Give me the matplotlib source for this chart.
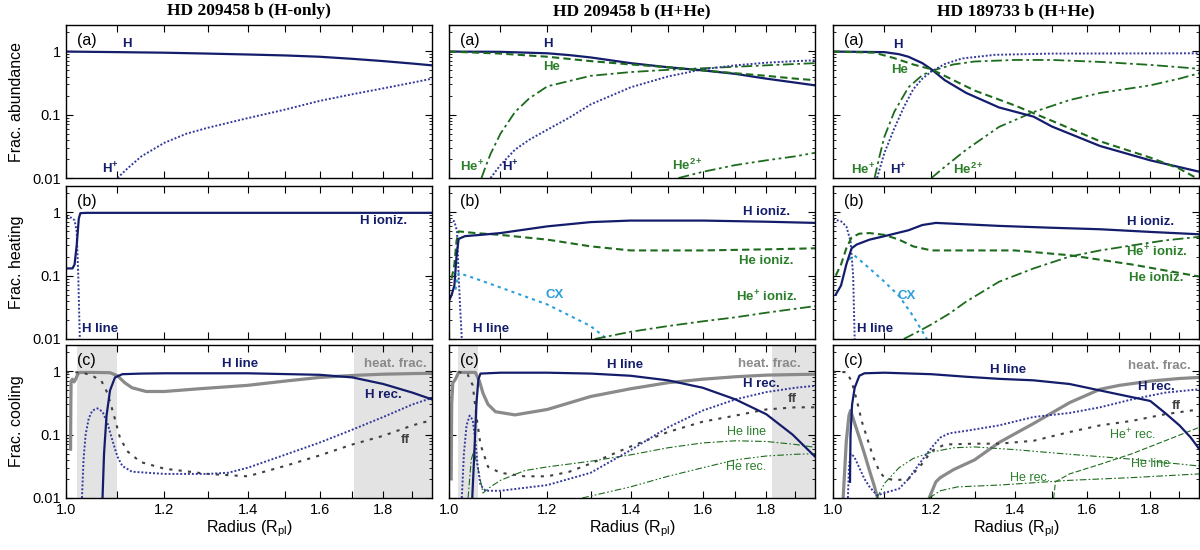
import numpy as np
import matplotlib
matplotlib.use('Agg')
import matplotlib.pyplot as plt
from matplotlib.ticker import FixedLocator, FixedFormatter, NullFormatter, NullLocator

plt.rcParams['font.family'] = ['Liberation Sans', 'DejaVu Sans']
plt.rcParams['mathtext.fontset'] = 'custom'
plt.rcParams['mathtext.rm'] = 'Liberation Sans'
plt.rcParams['mathtext.bf'] = 'Liberation Sans:bold'
plt.rcParams['mathtext.it'] = 'Liberation Sans:italic'

NAVY = '#141d6b'
NAVY_DOT = '#343a9c'
GREEN = '#1d6b1d'
GREEN_TXT = '#2b7f2b'
CX_BLUE = '#2a9fd8'
GREY = '#8a8a8a'
FF_GREY = '#404040'
SHADE = '#e3e3e3'

XMIN, XMAX = 1.0, 1.97
YMIN, YMAX = 0.01, 2.6

col_titles = ['HD 209458 b (H-only)', 'HD 209458 b (H+He)', 'HD 189733 b (H+He)']
row_ylabels = ['Frac. abundance', 'Frac. heating', 'Frac. cooling']
panel_tags = ['(a)', '(b)', '(c)']
x_ticks = [1.0, 1.1, 1.2, 1.3, 1.4, 1.5, 1.6, 1.7, 1.8, 1.9]
x_ticklabels = ['1.0', '', '1.2', '', '1.4', '', '1.6', '', '1.8', '']
y_ticks = [0.01, 0.1, 1]
y_ticklabels = ['0.01', '0.1', '1']

# ---------------- column 1 : HD 209458 b (H-only) ----------------
c1_ab_H_x = [1.0, 1.1, 1.2, 1.3, 1.4, 1.5, 1.6, 1.7, 1.8, 1.9, 1.97]
c1_ab_H_y = [0.99, 0.97, 0.95, 0.92, 0.89, 0.86, 0.82, 0.76, 0.70, 0.64, 0.60]
c1_ab_Hp_x = [1.10, 1.12, 1.15, 1.2, 1.25, 1.3, 1.4, 1.5, 1.6, 1.7, 1.8, 1.9, 1.97]
c1_ab_Hp_y = [0.01, 0.014, 0.022, 0.036, 0.05, 0.062, 0.088, 0.12, 0.165, 0.21, 0.26, 0.32, 0.37]

c1_ht_Hion_x = [1.0, 1.012, 1.016, 1.02, 1.024, 1.027, 1.04, 1.97]
c1_ht_Hion_y = [0.13, 0.13, 0.15, 0.3, 0.8, 0.97, 0.98, 0.98]
c1_ht_Hline_x = [1.0, 1.01, 1.016, 1.02, 1.023, 1.025, 1.026]
c1_ht_Hline_y = [0.85, 0.82, 0.75, 0.5, 0.1, 0.02, 0.01]

c1_cl_heat_x = [1.0085, 1.009, 1.0095, 1.012, 1.015, 1.018, 1.022, 1.026, 1.05, 1.085, 1.1,
                1.115, 1.13, 1.16, 1.2, 1.28, 1.4, 1.5, 1.6, 1.7, 1.8, 1.9, 1.97]
c1_cl_heat_y = [0.059, 0.3, 0.7, 0.75, 0.68, 0.75, 0.9, 0.96, 0.96, 0.95, 0.85,
                0.66, 0.55, 0.48, 0.48, 0.53, 0.6, 0.7, 0.8, 0.86, 0.9, 0.92, 0.93]
c1_cl_Hline_x = [1.07, 1.073, 1.078, 1.085, 1.095, 1.11, 1.15, 1.2, 1.4, 1.6, 1.7, 1.8, 1.9, 1.97]
c1_cl_Hline_y = [0.01, 0.05, 0.2, 0.5, 0.8, 0.9, 0.92, 0.93, 0.93, 0.88, 0.8, 0.63, 0.46, 0.36]
c1_cl_Hrec_x = [1.03, 1.033, 1.037, 1.043, 1.05, 1.06, 1.07, 1.08, 1.09, 1.1, 1.11, 1.13, 1.2,
                1.3, 1.35, 1.4, 1.5, 1.6, 1.7, 1.8, 1.9, 1.97]
c1_cl_Hrec_y = [0.01, 0.04, 0.1, 0.18, 0.24, 0.26, 0.23, 0.15, 0.08, 0.045, 0.032, 0.026, 0.024,
                0.024, 0.025, 0.03, 0.048, 0.075, 0.12, 0.19, 0.3, 0.38]
c1_cl_ff_x = [1.0, 1.03, 1.05, 1.068, 1.08, 1.093, 1.105, 1.12, 1.148, 1.2, 1.3, 1.4, 1.5,
              1.6, 1.7, 1.8, 1.9, 1.97]
c1_cl_ff_y = [0.97, 0.96, 0.85, 0.7, 0.45, 0.2, 0.09, 0.055, 0.037, 0.029, 0.024, 0.022, 0.032,
              0.047, 0.07, 0.096, 0.14, 0.17]
c1_shades = [(1.021, 1.10), (1.705, 1.97)]

# ---------------- column 2 : HD 209458 b (H+He) ----------------
c2_ab_H_x = [1.0, 1.1, 1.2, 1.25, 1.3, 1.4, 1.5, 1.6, 1.7, 1.8, 1.9, 1.97]
c2_ab_H_y = [0.99, 0.98, 0.93, 0.87, 0.8, 0.65, 0.56, 0.5, 0.44, 0.37, 0.32, 0.29]
c2_ab_He_x = [1.0, 1.1, 1.2, 1.3, 1.4, 1.5, 1.6, 1.7, 1.8, 1.9, 1.97]
c2_ab_He_y = [0.99, 0.92, 0.82, 0.7, 0.62, 0.56, 0.5, 0.45, 0.41, 0.37, 0.35]
c2_ab_Hp_x = [1.08, 1.1, 1.13, 1.16, 1.2, 1.25, 1.3, 1.4, 1.5, 1.6, 1.7, 1.8, 1.9, 1.97]
c2_ab_Hp_y = [0.01, 0.016, 0.028, 0.04, 0.058, 0.09, 0.145, 0.27, 0.4, 0.52, 0.6, 0.66, 0.7, 0.72]
c2_ab_Hep_x = [1.062, 1.07, 1.08, 1.1, 1.13, 1.16, 1.2, 1.3, 1.4, 1.5, 1.6, 1.7, 1.8, 1.9, 1.97]
c2_ab_Hep_y = [0.01, 0.015, 0.024, 0.05, 0.11, 0.18, 0.28, 0.41, 0.47, 0.51, 0.54, 0.57, 0.6, 0.63, 0.65]
c2_ab_He2p_x = [1.53, 1.6, 1.7, 1.8, 1.9, 1.97]
c2_ab_He2p_y = [0.01, 0.0125, 0.016, 0.019, 0.022, 0.025]

c2_ht_Hion_x = [1.0, 1.005, 1.01, 1.014, 1.018, 1.03, 1.06, 1.1, 1.2, 1.3, 1.4, 1.6, 1.8, 1.97]
c2_ht_Hion_y = [0.04, 0.05, 0.07, 0.2, 0.38, 0.42, 0.44, 0.47, 0.6, 0.7, 0.74, 0.74, 0.71, 0.68]
c2_ht_Heion_x = [1.005, 1.01, 1.014, 1.018, 1.05, 1.1, 1.2, 1.3, 1.4, 1.6, 1.8, 1.97]
c2_ht_Heion_y = [0.09, 0.15, 0.35, 0.5, 0.47, 0.44, 0.37, 0.29, 0.25, 0.25, 0.26, 0.27]
c2_ht_Hepion_x = [1.31, 1.4, 1.5, 1.6, 1.7, 1.8, 1.9, 1.97]
c2_ht_Hepion_y = [0.01, 0.013, 0.016, 0.019, 0.022, 0.026, 0.03, 0.033]
c2_ht_CX_x = [1.012, 1.018, 1.05, 1.1, 1.2, 1.3, 1.34]
c2_ht_CX_y = [0.06, 0.11, 0.09, 0.065, 0.035, 0.016, 0.01]
c2_ht_Hline_x = [1.0, 1.01, 1.015, 1.018, 1.021, 1.024]
c2_ht_Hline_y = [0.75, 0.72, 0.5, 0.1, 0.03, 0.01]

c2_cl_heat_x = [1.004, 1.005, 1.007, 1.012, 1.018, 1.05, 1.058, 1.065, 1.075, 1.09, 1.13, 1.2,
                1.3, 1.4, 1.5, 1.6, 1.7, 1.8, 1.97]
c2_cl_heat_y = [0.02, 0.3, 0.65, 0.75, 0.96, 0.96, 0.7, 0.45, 0.3, 0.23, 0.205, 0.25,
                0.4, 0.53, 0.66, 0.75, 0.82, 0.87, 0.9]
c2_cl_Hline_x = [1.044, 1.048, 1.052, 1.056, 1.06, 1.1, 1.2, 1.3, 1.4, 1.5, 1.6, 1.7, 1.8, 1.89, 1.97]
c2_cl_Hline_y = [0.01, 0.05, 0.3, 0.75, 0.92, 0.95, 0.95, 0.92, 0.85, 0.72, 0.55, 0.36, 0.21, 0.1, 0.045]
c2_cl_Hrec_x = [1.024, 1.028, 1.033, 1.039, 1.045, 1.05, 1.055, 1.06, 1.07, 1.1, 1.2, 1.3, 1.4,
                1.5, 1.6, 1.7, 1.8, 1.9, 1.97]
c2_cl_Hrec_y = [0.01, 0.05, 0.14, 0.2, 0.17, 0.08, 0.03, 0.016, 0.013, 0.013, 0.016, 0.025, 0.057,
                0.13, 0.24, 0.36, 0.47, 0.55, 0.59]
c2_cl_ff_x = [1.0, 1.02, 1.035, 1.045, 1.052, 1.06, 1.075, 1.1, 1.15, 1.2, 1.25, 1.3, 1.4, 1.5,
              1.6, 1.7, 1.8, 1.9, 1.97]
c2_cl_ff_y = [0.97, 0.97, 0.9, 0.6, 0.2, 0.07, 0.031, 0.025, 0.022, 0.022, 0.026, 0.035, 0.065, 0.11,
              0.16, 0.2, 0.25, 0.27, 0.27]
c2_cl_Heline_x = [1.036, 1.042, 1.047, 1.055, 1.065, 1.08, 1.1, 1.15, 1.2, 1.3, 1.4, 1.5, 1.6,
                  1.7, 1.8, 1.9, 1.97]
c2_cl_Heline_y = [0.01, 0.04, 0.055, 0.03, 0.012, 0.015, 0.019, 0.027, 0.031, 0.038, 0.048, 0.062,
                  0.074, 0.08, 0.078, 0.07, 0.063]
c2_cl_Herec_x = [1.28, 1.4, 1.5, 1.6, 1.7, 1.8, 1.9, 1.97]
c2_cl_Herec_y = [0.01, 0.015, 0.022, 0.03, 0.04, 0.046, 0.049, 0.05]
c2_shades = [(1.017, 1.056), (1.818, 1.97)]

# ---------------- column 3 : HD 189733 b (H+He) ----------------
c3_ab_H_x = [1.0, 1.1, 1.13, 1.15, 1.18, 1.2, 1.23, 1.28, 1.36, 1.45, 1.5, 1.64, 1.8, 1.97]
c3_ab_H_y = [0.99, 0.97, 0.9, 0.82, 0.65, 0.52, 0.35, 0.22, 0.13, 0.093, 0.065, 0.032, 0.019, 0.0126]
c3_ab_He_x = [1.0, 1.08, 1.12, 1.16, 1.2, 1.25, 1.3, 1.4, 1.5, 1.64, 1.8, 1.9, 1.97]
c3_ab_He_y = [0.99, 0.95, 0.78, 0.62, 0.52, 0.35, 0.24, 0.14, 0.08, 0.038, 0.021, 0.014, 0.0095]
c3_ab_Hp_x = [1.085, 1.1, 1.12, 1.14, 1.16, 1.18, 1.2, 1.23, 1.27, 1.35, 1.5, 1.97]
c3_ab_Hp_y = [0.01, 0.025, 0.06, 0.13, 0.25, 0.37, 0.48, 0.63, 0.77, 0.88, 0.92, 0.93]
c3_ab_Hep_x = [1.08, 1.09, 1.1, 1.12, 1.15, 1.18, 1.2, 1.25, 1.3, 1.4, 1.5, 1.64, 1.8, 1.97]
c3_ab_Hep_y = [0.01, 0.022, 0.045, 0.11, 0.27, 0.42, 0.49, 0.62, 0.69, 0.73, 0.73, 0.68, 0.61, 0.53]
c3_ab_He2p_x = [1.2, 1.23, 1.28, 1.36, 1.45, 1.55, 1.64, 1.8, 1.9, 1.97]
c3_ab_He2p_y = [0.01, 0.015, 0.028, 0.064, 0.11, 0.17, 0.22, 0.29, 0.37, 0.45]

c3_ht_Hion_x = [1.005, 1.015, 1.025, 1.035, 1.045, 1.07, 1.1, 1.15, 1.18, 1.21, 1.25, 1.36, 1.5,
                1.64, 1.8, 1.97]
c3_ht_Hion_y = [0.05, 0.07, 0.15, 0.27, 0.31, 0.37, 0.42, 0.52, 0.63, 0.68, 0.66, 0.61, 0.57,
                0.54, 0.49, 0.45]
c3_ht_Heion_x = [1.005, 1.015, 1.025, 1.035, 1.05, 1.07, 1.1, 1.13, 1.16, 1.2, 1.3, 1.4, 1.55, 1.74, 1.97]
c3_ht_Heion_y = [0.1, 0.15, 0.27, 0.4, 0.46, 0.47, 0.44, 0.37, 0.29, 0.25, 0.25, 0.25, 0.21, 0.15, 0.097]
c3_ht_Hepion_x = [1.14, 1.17, 1.2, 1.24, 1.28, 1.36, 1.45, 1.55, 1.64, 1.74, 1.85, 1.97]
c3_ht_Hepion_y = [0.01, 0.013, 0.017, 0.025, 0.039, 0.08, 0.13, 0.2, 0.25, 0.3, 0.36, 0.41]
c3_ht_CX_x = [1.03, 1.04, 1.07, 1.1, 1.13, 1.16, 1.19]
c3_ht_CX_y = [0.18, 0.21, 0.13, 0.08, 0.048, 0.023, 0.01]
c3_ht_Hline_x = [1.0, 1.015, 1.025, 1.033, 1.038, 1.041]
c3_ht_Hline_y = [0.78, 0.72, 0.6, 0.35, 0.1, 0.01]

c3_cl_heat1_x = [1.019, 1.025, 1.03, 1.033, 1.04, 1.05, 1.06, 1.07, 1.08, 1.086]
c3_cl_heat1_y = [0.01, 0.08, 0.2, 0.24, 0.16, 0.09, 0.05, 0.027, 0.015, 0.01]
c3_cl_heat2_x = [1.195, 1.21, 1.22, 1.25, 1.3, 1.36, 1.45, 1.55, 1.64, 1.7, 1.8, 1.9, 1.97]
c3_cl_heat2_y = [0.01, 0.018, 0.021, 0.028, 0.04, 0.075, 0.15, 0.32, 0.52, 0.6, 0.7, 0.77, 0.8]
c3_cl_Hline_x = [1.032, 1.033, 1.036, 1.041, 1.05, 1.06, 1.1, 1.2, 1.28, 1.36, 1.45, 1.55, 1.69,
                 1.8, 1.85, 1.9, 1.94, 1.97]
c3_cl_Hline_y = [0.018, 0.1, 0.3, 0.55, 0.85, 0.93, 0.95, 0.9, 0.82, 0.76, 0.72, 0.63, 0.44,
                 0.34, 0.22, 0.14, 0.09, 0.06]
c3_cl_Hrec_x = [1.028, 1.03, 1.033, 1.04, 1.05, 1.06, 1.07, 1.085, 1.1, 1.13, 1.15, 1.17, 1.2,
                1.22, 1.24, 1.28, 1.36, 1.45, 1.55, 1.64, 1.74, 1.85, 1.97]
c3_cl_Hrec_y = [0.01, 0.03, 0.05, 0.045, 0.03, 0.02, 0.015, 0.011, 0.012, 0.014, 0.02, 0.032, 0.062,
                0.09, 0.105, 0.115, 0.14, 0.19, 0.22, 0.27, 0.36, 0.46, 0.52]
c3_cl_ff_x = [1.0, 1.025, 1.035, 1.045, 1.055, 1.065, 1.077, 1.09, 1.1, 1.12, 1.15, 1.18, 1.2,
              1.23, 1.3, 1.36, 1.45, 1.55, 1.64, 1.74, 1.85, 1.97]
c3_cl_ff_y = [0.98, 0.97, 0.7, 0.35, 0.16, 0.09, 0.045, 0.026, 0.021, 0.019, 0.02, 0.035, 0.055,
              0.07, 0.072, 0.072, 0.08, 0.11, 0.14, 0.165, 0.21, 0.25]
c3_cl_Heline_x = [1.085, 1.1, 1.13, 1.16, 1.2, 1.25, 1.3, 1.4, 1.55, 1.74, 1.97]
c3_cl_Heline_y = [0.01, 0.017, 0.03, 0.042, 0.053, 0.062, 0.064, 0.058, 0.049, 0.041, 0.032]
c3_cl_Hereca_x = [1.195, 1.22, 1.26, 1.36, 1.55, 1.74, 1.97]
c3_cl_Hereca_y = [0.01, 0.013, 0.015, 0.016, 0.019, 0.021, 0.024]
c3_cl_Heprec_x = [1.505, 1.51, 1.55, 1.64, 1.74, 1.85, 1.97]
c3_cl_Heprec_y = [0.01, 0.018, 0.024, 0.034, 0.05, 0.08, 0.13]

# line styles
DOT = (0, (1, 1))
DASH = (0, (3.5, 2))
DASHDOT = (0, (6, 2, 1.5, 2))
DASHDOTDOT = (0, (6, 2, 1.5, 2, 1.5, 2))
FFDOT = (0, (1.5, 3))
CXDOT = (0, (1.5, 2))


def style_axes(ax, row, col):
    ax.set_xscale('log')
    ax.set_yscale('log')
    ax.set_xlim(XMIN, XMAX)
    ax.set_ylim(YMIN, YMAX)
    ax.xaxis.set_major_locator(FixedLocator(x_ticks))
    ax.xaxis.set_minor_locator(NullLocator())
    ax.xaxis.set_minor_formatter(NullFormatter())
    if row == 2:
        ax.xaxis.set_major_formatter(FixedFormatter(x_ticklabels))
        ax.set_xlabel(r'Radius (R$_{\mathrm{pl}}$)', fontsize=11.5, labelpad=1)
    else:
        ax.xaxis.set_major_formatter(NullFormatter())
    ax.yaxis.set_major_locator(FixedLocator(y_ticks))
    if col == 0:
        ax.yaxis.set_major_formatter(FixedFormatter(y_ticklabels))
        ax.set_ylabel(row_ylabels[row], fontsize=11.5, labelpad=6)
    else:
        ax.yaxis.set_major_formatter(NullFormatter())
    ax.yaxis.set_minor_formatter(NullFormatter())
    ax.tick_params(which='both', direction='in', top=True, right=True, labelsize=10.5)
    ax.tick_params(which='major', length=5, width=0.8)
    ax.tick_params(which='minor', length=2.5, width=0.6)
    for s in ax.spines.values():
        s.set_linewidth(1.0)
    ax.text(0.03, 0.95, panel_tags[row], transform=ax.transAxes, fontsize=11.5,
            ha='left', va='top')


def lab(ax, x, y, s, color, bold=True, size=9.5, ha='center'):
    ax.text(x, y, s, color=color, fontsize=size, ha=ha, va='center',
            fontweight='bold' if bold else 'normal')


fig = plt.figure(figsize=(12, 5.5), dpi=100)
col_left = [66, 449, 833]
row_top = [25, 186, 345]
PW, PH = 366, 153
axes = [[None] * 3 for _ in range(3)]
for r in range(3):
    for c in range(3):
        axes[r][c] = fig.add_axes([col_left[c] / 1200, 1 - (row_top[r] + PH) / 550,
                                   PW / 1200, PH / 550])

for c in range(3):
    fig.text((col_left[c] + PW / 2) / 1200, 1 - 11 / 550, col_titles[c],
             family=['Liberation Serif', 'DejaVu Serif'], fontweight='bold',
             fontsize=12.5, ha='center', va='center')

# ---- column 1
ax = axes[0][0]
ax.plot(c1_ab_H_x, c1_ab_H_y, color=NAVY, lw=1.6)
ax.plot(c1_ab_Hp_x, c1_ab_Hp_y, color=NAVY_DOT, lw=1.4, ls=DOT)
lab(ax, 1.12, 1.3, 'H', NAVY)
lab(ax, 1.085, 0.014, r'H$^{\mathbf{+}}$', NAVY)

ax = axes[1][0]
ax.plot(c1_ht_Hline_x, c1_ht_Hline_y, color=NAVY_DOT, lw=1.4, ls=DOT)
ax.plot(c1_ht_Hion_x, c1_ht_Hion_y, color=NAVY, lw=1.6)
lab(ax, 1.80, 0.72, 'H ioniz.', NAVY)
lab(ax, 1.03, 0.0145, 'H line', NAVY, ha='left')

ax = axes[2][0]
for a, b in c1_shades:
    ax.axvspan(a, b, color=SHADE, lw=0, zorder=0)
ax.plot(c1_cl_heat_x, c1_cl_heat_y, color=GREY, lw=2.3)
ax.plot(c1_cl_ff_x, c1_cl_ff_y, color=FF_GREY, lw=1.5, ls=FFDOT)
ax.plot(c1_cl_Hrec_x, c1_cl_Hrec_y, color=NAVY_DOT, lw=1.4, ls=DOT)
ax.plot(c1_cl_Hline_x, c1_cl_Hline_y, color=NAVY, lw=1.6)
lab(ax, 1.38, 1.3, 'H line', NAVY)
lab(ax, 1.84, 1.3, 'heat. frac.', GREY)
lab(ax, 1.80, 0.42, 'H rec.', NAVY)
lab(ax, 1.875, 0.082, 'ff', FF_GREY)

# ---- column 2
ax = axes[0][1]
ax.plot(c2_ab_He2p_x, c2_ab_He2p_y, color=GREEN, lw=1.3, ls=DASHDOTDOT)
ax.plot(c2_ab_Hep_x, c2_ab_Hep_y, color=GREEN, lw=1.3, ls=DASHDOT)
ax.plot(c2_ab_Hp_x, c2_ab_Hp_y, color=NAVY_DOT, lw=1.4, ls=DOT)
ax.plot(c2_ab_H_x, c2_ab_H_y, color=NAVY, lw=1.6)
ax.plot(c2_ab_He_x, c2_ab_He_y, color=GREEN, lw=1.5, ls=DASH)
lab(ax, 1.2, 1.3, 'H', NAVY)
lab(ax, 1.21, 0.56, 'He', GREEN_TXT)
lab(ax, 1.043, 0.015, r'He$^{\mathbf{+}}$', GREEN_TXT)
lab(ax, 1.12, 0.015, r'H$^{\mathbf{+}}$', NAVY)
lab(ax, 1.555, 0.016, r'He$^{\mathbf{2+}}$', GREEN_TXT)

ax = axes[1][1]
ax.plot(c2_ht_Hline_x, c2_ht_Hline_y, color=NAVY_DOT, lw=1.4, ls=DOT)
ax.plot(c2_ht_CX_x, c2_ht_CX_y, color=CX_BLUE, lw=1.5, ls=CXDOT)
ax.plot(c2_ht_Hepion_x, c2_ht_Hepion_y, color=GREEN, lw=1.3, ls=DASHDOT)
ax.plot(c2_ht_Heion_x, c2_ht_Heion_y, color=GREEN, lw=1.5, ls=DASH)
ax.plot(c2_ht_Hion_x, c2_ht_Hion_y, color=NAVY, lw=1.6)
lab(ax, 1.80, 1.0, 'H ioniz.', NAVY)
lab(ax, 1.80, 0.17, 'He ioniz.', GREEN_TXT)
lab(ax, 1.80, 0.046, r'He$^{\mathbf{+}}$ ioniz.', GREEN_TXT)
lab(ax, 1.217, 0.05, 'CX', CX_BLUE)
lab(ax, 1.045, 0.0145, 'H line', NAVY, ha='left')

ax = axes[2][1]
for a, b in c2_shades:
    ax.axvspan(a, b, color=SHADE, lw=0, zorder=0)
ax.plot(c2_cl_heat_x, c2_cl_heat_y, color=GREY, lw=2.3)
ax.plot(c2_cl_Herec_x, c2_cl_Herec_y, color=GREEN, lw=0.8, ls=DASHDOTDOT)
ax.plot(c2_cl_Heline_x, c2_cl_Heline_y, color=GREEN, lw=0.8, ls=DASHDOT)
ax.plot(c2_cl_ff_x, c2_cl_ff_y, color=FF_GREY, lw=1.5, ls=FFDOT)
ax.plot(c2_cl_Hrec_x, c2_cl_Hrec_y, color=NAVY_DOT, lw=1.4, ls=DOT)
ax.plot(c2_cl_Hline_x, c2_cl_Hline_y, color=NAVY, lw=1.6)
lab(ax, 1.386, 1.25, 'H line', NAVY)
lab(ax, 1.81, 1.3, 'heat. frac.', GREY)
lab(ax, 1.785, 0.62, 'H rec.', NAVY)
lab(ax, 1.89, 0.36, 'ff', FF_GREY)
lab(ax, 1.735, 0.11, 'He line', GREEN_TXT, bold=False, size=9)
lab(ax, 1.735, 0.031, 'He rec.', GREEN_TXT, bold=False, size=9)

# ---- column 3
ax = axes[0][2]
ax.plot(c3_ab_He2p_x, c3_ab_He2p_y, color=GREEN, lw=1.3, ls=DASHDOTDOT)
ax.plot(c3_ab_Hep_x, c3_ab_Hep_y, color=GREEN, lw=1.3, ls=DASHDOT)
ax.plot(c3_ab_Hp_x, c3_ab_Hp_y, color=NAVY_DOT, lw=1.4, ls=DOT)
ax.plot(c3_ab_H_x, c3_ab_H_y, color=NAVY, lw=1.6)
ax.plot(c3_ab_He_x, c3_ab_He_y, color=GREEN, lw=1.5, ls=DASH)
lab(ax, 1.128, 1.25, 'H', NAVY)
lab(ax, 1.132, 0.5, 'He', GREEN_TXT)
lab(ax, 1.057, 0.0135, r'He$^{\mathbf{+}}$', GREEN_TXT)
lab(ax, 1.128, 0.0135, r'H$^{\mathbf{+}}$', NAVY)
lab(ax, 1.285, 0.0135, r'He$^{\mathbf{2+}}$', GREEN_TXT)

ax = axes[1][2]
ax.plot(c3_ht_Hline_x, c3_ht_Hline_y, color=NAVY_DOT, lw=1.4, ls=DOT)
ax.plot(c3_ht_CX_x, c3_ht_CX_y, color=CX_BLUE, lw=1.5, ls=CXDOT)
ax.plot(c3_ht_Hepion_x, c3_ht_Hepion_y, color=GREEN, lw=1.3, ls=DASHDOT)
ax.plot(c3_ht_Heion_x, c3_ht_Heion_y, color=GREEN, lw=1.5, ls=DASH)
ax.plot(c3_ht_Hion_x, c3_ht_Hion_y, color=NAVY, lw=1.6)
lab(ax, 1.80, 0.70, 'H ioniz.', NAVY)
lab(ax, 1.82, 0.24, r'He$^{\mathbf{+}}$ ioniz.', GREEN_TXT)
lab(ax, 1.82, 0.093, 'He ioniz.', GREEN_TXT)
lab(ax, 1.146, 0.047, 'CX', CX_BLUE)
lab(ax, 1.045, 0.0145, 'H line', NAVY, ha='left')

ax = axes[2][2]
ax.plot(c3_cl_heat1_x, c3_cl_heat1_y, color=GREY, lw=2.3)
ax.plot(c3_cl_heat2_x, c3_cl_heat2_y, color=GREY, lw=2.3)
ax.plot(c3_cl_Hereca_x, c3_cl_Hereca_y, color=GREEN, lw=0.8, ls=DASHDOT)
ax.plot(c3_cl_Heprec_x, c3_cl_Heprec_y, color=GREEN, lw=0.8, ls=(0, (5, 2)))
ax.plot(c3_cl_Heline_x, c3_cl_Heline_y, color=GREEN, lw=0.8, ls=DASHDOTDOT)
ax.plot(c3_cl_ff_x, c3_cl_ff_y, color=FF_GREY, lw=1.5, ls=FFDOT)
ax.plot(c3_cl_Hrec_x, c3_cl_Hrec_y, color=NAVY_DOT, lw=1.4, ls=DOT)
ax.plot(c3_cl_Hline_x, c3_cl_Hline_y, color=NAVY, lw=1.6)
lab(ax, 1.383, 1.05, 'H line', NAVY)
lab(ax, 1.83, 1.2, 'heat. frac.', GREY)
lab(ax, 1.82, 0.56, 'H rec.', NAVY)
lab(ax, 1.89, 0.28, 'ff', FF_GREY)
lab(ax, 1.74, 0.1, r'He$^{+}$ rec.', GREEN_TXT, bold=False, size=9)
lab(ax, 1.80, 0.034, 'He line', GREEN_TXT, bold=False, size=9)
lab(ax, 1.44, 0.021, 'He rec.', GREEN_TXT, bold=False, size=9)

for r in range(3):
    for c in range(3):
        style_axes(axes[r][c], r, c)

fig.savefig('out.png', dpi=100)
